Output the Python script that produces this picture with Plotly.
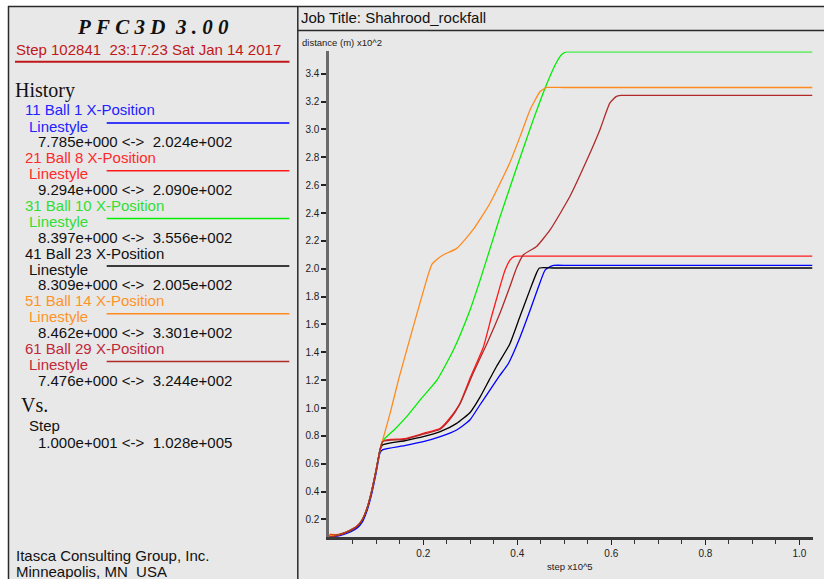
import plotly.graph_objects as go

W, H = 824, 579

# Step axis in units of 1e5 steps, distance in units of 1e2 m
ball1_step = [0.0001, 0.02, 0.045, 0.06, 0.07, 0.08, 0.09, 0.1, 0.108, 0.113, 0.16, 0.2, 0.236, 0.271,
              0.299, 0.32, 0.342, 0.362, 0.381, 0.406, 0.427, 0.445, 0.459, 0.47, 0.477, 0.51, 1.028]
ball1_x = [0.0779, 0.083, 0.11, 0.14, 0.18, 0.26, 0.38, 0.54, 0.68, 0.70, 0.73, 0.758, 0.794, 0.842,
           0.914, 1.02, 1.13, 1.23, 1.32, 1.51, 1.70, 1.87, 1.99, 2.015, 2.024, 2.024, 2.024]

ball8_step = [0.0001, 0.02, 0.045, 0.06, 0.07, 0.08, 0.09, 0.1, 0.108, 0.114, 0.16, 0.2, 0.236, 0.257,
              0.278, 0.299, 0.328, 0.345, 0.363, 0.374, 0.384, 0.392, 0.40, 0.43, 1.028]
ball8_x = [0.0929, 0.0929, 0.125, 0.157, 0.2, 0.28, 0.405, 0.565, 0.705, 0.765, 0.78, 0.818, 0.854, 0.93,
           1.034, 1.21, 1.44, 1.655, 1.87, 1.99, 2.06, 2.085, 2.090, 2.090, 2.090]

ball10_step = [0.0001, 0.02, 0.045, 0.06, 0.07, 0.08, 0.09, 0.1, 0.108, 0.115, 0.14, 0.165, 0.193, 0.229,
               0.264, 0.299, 0.321, 0.349, 0.363, 0.399, 0.434, 0.463, 0.484, 0.495, 0.505, 0.54, 1.028]
ball10_x = [0.084, 0.09, 0.122, 0.155, 0.198, 0.278, 0.402, 0.562, 0.70, 0.77, 0.85, 0.94, 1.057, 1.2,
            1.416, 1.70, 1.92, 2.22, 2.37, 2.73, 3.07, 3.33, 3.486, 3.54, 3.556, 3.556, 3.556]

ball23_step = [0.0001, 0.02, 0.045, 0.06, 0.07, 0.08, 0.09, 0.1, 0.108, 0.113, 0.16, 0.2, 0.236, 0.271,
               0.3, 0.321, 0.34, 0.356, 0.384, 0.406, 0.427, 0.441, 0.447, 0.48, 1.028]
ball23_x = [0.0831, 0.09, 0.12, 0.152, 0.195, 0.275, 0.40, 0.56, 0.70, 0.735, 0.765, 0.794, 0.83, 0.89,
            0.97, 1.08, 1.2, 1.30, 1.46, 1.66, 1.85, 1.97, 2.005, 2.005, 2.005]

ball14_step = [0.0001, 0.02, 0.045, 0.06, 0.07, 0.08, 0.09, 0.1, 0.108, 0.13, 0.147, 0.18, 0.207, 0.218,
               0.23, 0.243, 0.271, 0.306, 0.342, 0.37, 0.384, 0.406, 0.427, 0.448, 0.456, 0.463, 0.5, 1.028]
ball14_x = [0.0846, 0.09, 0.122, 0.155, 0.198, 0.278, 0.402, 0.562, 0.70, 0.97, 1.2, 1.6, 1.92, 2.03,
            2.07, 2.10, 2.146, 2.28, 2.47, 2.66, 2.76, 2.95, 3.14, 3.27, 3.29, 3.301, 3.301, 3.301]

ball29_step = [0.0001, 0.02, 0.045, 0.06, 0.07, 0.08, 0.09, 0.1, 0.108, 0.114, 0.16, 0.2, 0.236, 0.257,
               0.278, 0.306, 0.335, 0.363, 0.384, 0.399, 0.413, 0.441, 0.47, 0.512, 0.548, 0.576, 0.597,
               0.61, 0.62, 0.66, 1.028]
ball29_x = [0.0748, 0.088, 0.122, 0.155, 0.198, 0.278, 0.402, 0.562, 0.70, 0.76, 0.775, 0.812, 0.848, 0.92,
            1.03, 1.25, 1.46, 1.68, 1.87, 2.01, 2.10, 2.16, 2.28, 2.52, 2.78, 3.0, 3.19, 3.235, 3.244,
            3.244, 3.244]

step_ticks = [0.2, 0.4, 0.6, 0.8, 1.0]
step_minor_ticks = [0.05, 0.1, 0.15, 0.25, 0.3, 0.35, 0.45, 0.5, 0.55, 0.65, 0.7, 0.75, 0.85, 0.9, 0.95]

hist_labels = ["11 Ball 1 X-Position", "21 Ball 8 X-Position", "31 Ball 10 X-Position",
               "41 Ball 23 X-Position", "51 Ball 14 X-Position", "61 Ball 29 X-Position"]
hist_ranges = ["7.785e+000 <->\u00a0 2.024e+002", "9.294e+000 <->\u00a0 2.090e+002",
               "8.397e+000 <->\u00a0 3.556e+002", "8.309e+000 <->\u00a0 2.005e+002",
               "8.462e+000 <->\u00a0 3.301e+002", "7.476e+000 <->\u00a0 3.244e+002"]
line_colors = ["#0000ff", "#ff1a1a", "#00ee00", "#000000", "#ff8a1e", "#b02a2a"]
text_colors = ["#2222ff", "#ff2a2a", "#33dd33", "#111111", "#ff9426", "#c0283a"]
step_range = "1.000e+001 <->\u00a0 1.028e+005"

series = [(ball1_step, ball1_x), (ball8_step, ball8_x), (ball10_step, ball10_x),
          (ball23_step, ball23_x), (ball14_step, ball14_x), (ball29_step, ball29_x)]

fig = go.Figure()
for (sx, sy), col, name in zip(series, line_colors, hist_labels):
    fig.add_trace(go.Scatter(x=sx, y=sy, mode="lines", name=name,
                             line=dict(color=col, width=1.3, shape="spline", smoothing=0.5)))


def px_x(p):
    return p / W


def px_y(p):
    return 1 - p / H


SANS = "Liberation Sans, Arial, sans-serif"
SERIF = "Liberation Serif, Times New Roman, serif"


def label(text, x, y, size=15, color="#111111", family=SANS, xanchor="left"):
    return dict(text=text, x=px_x(x), y=px_y(y), xref="paper", yref="paper",
                xanchor=xanchor, yanchor="middle", showarrow=False,
                borderpad=0, borderwidth=0,
                font=dict(size=size, color=color, family=family))


def hline(x0, x1, y, color, width):
    return dict(type="line", xref="paper", yref="paper",
                x0=px_x(x0), x1=px_x(x1), y0=px_y(y), y1=px_y(y),
                line=dict(color=color, width=width))


def vline(x, y0, y1, color, width):
    return dict(type="line", xref="paper", yref="paper",
                x0=px_x(x), x1=px_x(x), y0=px_y(y0), y1=px_y(y1),
                line=dict(color=color, width=width))


annotations = []
shapes = []

# outer white margin and frame lines
shapes.append(dict(type="rect", xref="paper", yref="paper", x0=0, x1=1, y0=px_y(6), y1=1,
                   fillcolor="white", line=dict(width=0)))
shapes.append(dict(type="rect", xref="paper", yref="paper", x0=0, x1=px_x(8), y0=0, y1=1,
                   fillcolor="white", line=dict(width=0)))
frame = "#2a2a2a"
shapes.append(hline(8, 824, 6.5, frame, 1.5))
shapes.append(vline(8.5, 6, 585, frame, 1.5))
shapes.append(vline(297.8, 6, 585, frame, 1.5))
shapes.append(hline(297.8, 824, 30.5, frame, 1.5))

# header of the info panel
title = "\u2005".join(list("PFC3D")) + " \u2005" + "\u2005".join(list("3.00"))
annotations.append(label("<b><i>" + title + "</i></b>", 152.5, 26.5, size=21,
                         color="#111111", family=SERIF, xanchor="center"))
annotations.append(label("Step 102841\u00a0 23:17:23 Sat Jan 14 2017", 16, 49, size=15, color="#c01818"))
shapes.append(hline(15, 289.5, 61.7, "#c01818", 2))

annotations.append(label("History", 15, 91, size=20, color="#111111", family=SERIF))

block_y = [110, 157.7, 205.4, 253.1, 300.8, 348.5]
for by, lab, rng, tcol, lcol in zip(block_y, hist_labels, hist_ranges, text_colors, line_colors):
    annotations.append(label(lab, 25, by, color=tcol))
    annotations.append(label("Linestyle", 29, by + 16, color=tcol))
    annotations.append(label(rng, 38, by + 31.8, color="#111111"))
    shapes.append(hline(106.7, 289.3, by + 13, lcol, 1.5))

annotations.append(label("Vs.", 21, 405, size=20, color="#111111", family=SERIF))
annotations.append(label("Step", 29, 426))
annotations.append(label(step_range, 38, 442))

annotations.append(label("Itasca Consulting Group, Inc.", 16, 555))
annotations.append(label("Minneapolis, MN\u00a0 USA", 16, 571))

# plot panel texts
annotations.append(label("Job Title: Shahrood_rockfall", 301, 17.5, size=15))
annotations.append(label("distance (m) x10^2", 302, 42.3, size=9.5, color="#222222"))
annotations.append(label("step x10^5", 570, 566.7, size=9.5, color="#222222", xanchor="center"))

x_left, x_right = 329.35, 812.5
y_top, y_bot = 51.4, 537.3

fig.update_layout(
    width=W, height=H,
    margin=dict(l=0, r=0, t=0, b=0),
    paper_bgcolor="#e8e8e8",
    plot_bgcolor="#e8e8e8",
    showlegend=False,
    annotations=annotations,
    shapes=shapes,
    xaxis=dict(
        domain=[x_left / W, x_right / W],
        range=[0.0001, 1.028],
        tickmode="array", tickvals=step_ticks, ticktext=[f"{v:.1f}" for v in step_ticks],
        ticks="outside", ticklen=5, tickwidth=1.3, tickcolor="#222222",
        minor=dict(tickmode="array", tickvals=step_minor_ticks, ticks="outside",
                   ticklen=4, tickwidth=1.2, tickcolor="#333333"),
        showline=True, linecolor="#3a3a3a", linewidth=2.5,
        showgrid=False, zeroline=False,
        tickfont=dict(family=SANS, size=10, color="#222222"),
    ),
    yaxis=dict(
        domain=[1 - y_bot / H, 1 - y_top / H],
        range=[0.072, 3.56],
        tick0=0, dtick=0.2, tickformat=".1f",
        ticks="outside", ticklen=5, tickwidth=1.5, tickcolor="#222222",
        showline=True, linecolor="#6a6a6a", linewidth=3,
        showgrid=False, zeroline=False,
        tickfont=dict(family=SANS, size=10, color="#222222"),
    ),
)

fig.write_html("out.html", post_script="document.body.style.margin='0';")
